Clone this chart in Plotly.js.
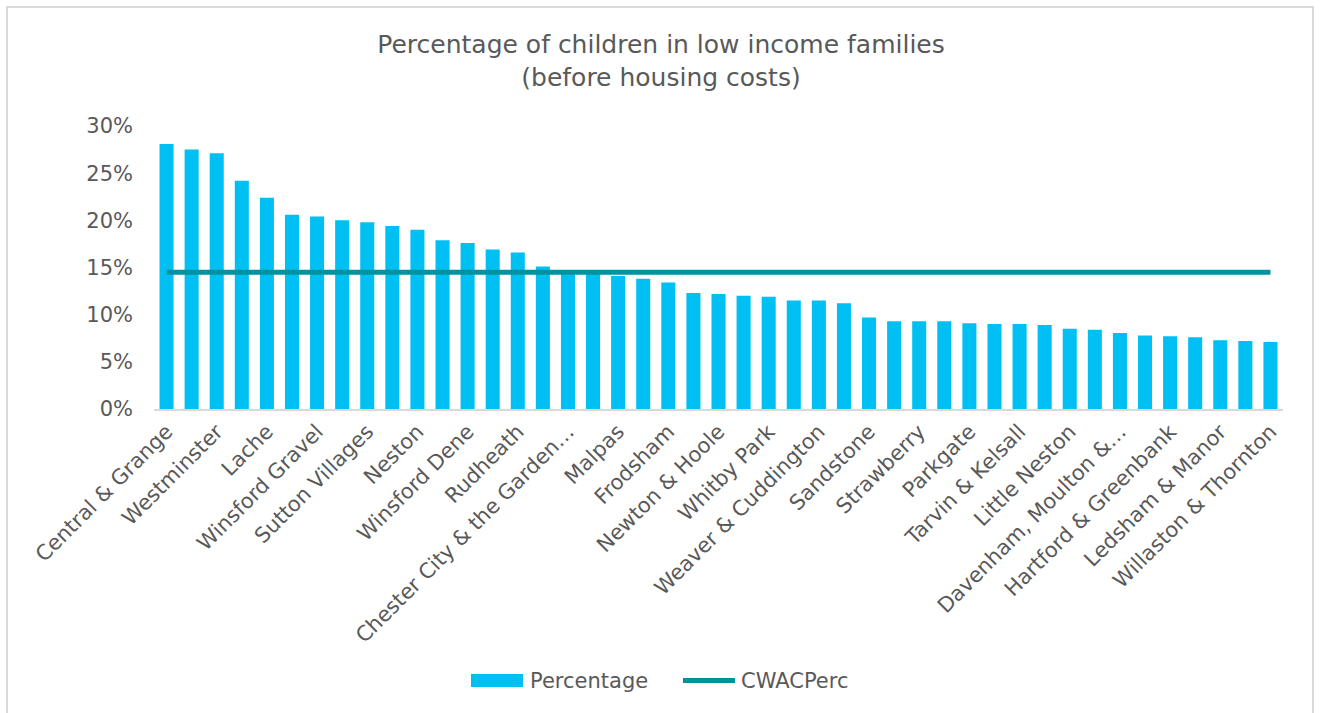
<!DOCTYPE html>
<html>
<head>
<meta charset="utf-8">
<script src="https://cdn.plot.ly/plotly-3.0.1.min.js"></script>
<style>
  html, body { margin: 0; padding: 0; background: #ffffff; }
  #frame { position: absolute; left: 6px; top: 6px; width: 1308px; height: 760px; border: 2px solid #d9d9d9; box-sizing: border-box; }
  #chart { position: absolute; left: 0; top: 0; width: 1322px; height: 713px; }
</style>
</head>
<body>
<div id="frame"></div>
<div id="chart"></div>
<script>
// Wards (categories), sorted by percentage, descending
const wards = [
  "Central & Grange", "Blacon", "Westminster", "Winsford Over & Verdin", "Lache",
  "Wolverham", "Winsford Gravel", "Witton", "Sutton Villages", "Netherpool",
  "Neston", "Winnington & Castle", "Winsford Dene", "Shakerley", "Rudheath",
  "Whitby Groves", "Chester City & the Garden Quarter", "Winsford Swanlow", "Malpas", "Ellesmere Port Town",
  "Frodsham", "Helsby", "Newton & Hoole", "Marbury", "Whitby Park",
  "Kingsley", "Weaver & Cuddington", "Upton", "Sandstone", "Great Boughton",
  "Strawberry", "Gowy Rural", "Parkgate", "Farndon", "Tarvin & Kelsall",
  "Tattenhall", "Little Neston", "Saughall & Mollington", "Davenham, Moulton & Kingsmead", "Tarporley",
  "Hartford & Greenbank", "Christleton & Huntington", "Ledsham & Manor", "Handbridge Park", "Willaston & Thornton"
];

// Percentage of children in low income families (before housing costs)
const percentage = [
  0.281, 0.275, 0.271, 0.242, 0.224,
  0.206, 0.204, 0.200, 0.198, 0.194,
  0.190, 0.179, 0.176, 0.169, 0.166,
  0.151, 0.146, 0.145, 0.141, 0.138,
  0.134, 0.123, 0.122, 0.120, 0.119,
  0.115, 0.115, 0.112, 0.097, 0.093,
  0.093, 0.093, 0.091, 0.090, 0.090,
  0.089, 0.085, 0.084, 0.0805, 0.078,
  0.077, 0.076, 0.073, 0.072, 0.071
];

// Cheshire West and Chester average (constant series)
const cwacPerc = [
  0.145, 0.145, 0.145, 0.145, 0.145, 0.145, 0.145, 0.145, 0.145,
  0.145, 0.145, 0.145, 0.145, 0.145, 0.145, 0.145, 0.145, 0.145,
  0.145, 0.145, 0.145, 0.145, 0.145, 0.145, 0.145, 0.145, 0.145,
  0.145, 0.145, 0.145, 0.145, 0.145, 0.145, 0.145, 0.145, 0.145,
  0.145, 0.145, 0.145, 0.145, 0.145, 0.145, 0.145, 0.145, 0.145
];

// Tick labels shown on the axis (every other ward, as displayed)
const tickWards = [
  "Central & Grange", "Westminster", "Lache", "Winsford Gravel", "Sutton Villages",
  "Neston", "Winsford Dene", "Rudheath", "Chester City & the Garden Quarter", "Malpas",
  "Frodsham", "Newton & Hoole", "Whitby Park", "Weaver & Cuddington", "Sandstone",
  "Strawberry", "Parkgate", "Tarvin & Kelsall", "Little Neston", "Davenham, Moulton & Kingsmead",
  "Hartford & Greenbank", "Ledsham & Manor", "Willaston & Thornton"
];
const tickText = [
  "Central & Grange", "Westminster", "Lache", "Winsford Gravel", "Sutton Villages",
  "Neston", "Winsford Dene", "Rudheath", "Chester City & the Garden…", "Malpas",
  "Frodsham", "Newton & Hoole", "Whitby Park", "Weaver & Cuddington", "Sandstone",
  "Strawberry", "Parkgate", "Tarvin & Kelsall", "Little Neston", "Davenham, Moulton &…",
  "Hartford & Greenbank", "Ledsham & Manor", "Willaston & Thornton"
];

const seriesNames = ["Percentage", "CWACPerc"];
const BAR_COLOR = "#00BFF3";
const LINE_COLOR = "#00939F";

const FONT = "DejaVu Sans, Liberation Sans, Arial, sans-serif";
const GREY = "#595959";

const traces = [
  {
    type: "bar",
    name: seriesNames[0],
    x: wards,
    y: percentage,
    marker: { color: BAR_COLOR, line: { width: 0 } },
    hoverinfo: "x+y"
  },
  {
    type: "scatter",
    mode: "lines",
    name: seriesNames[1],
    x: wards,
    y: cwacPerc,
    line: { color: LINE_COLOR, width: 5 },
    hoverinfo: "x+y"
  }
];

// plot area in pixels: x 154..1283, y 126..409.5 -> helpers to place the legend in paper units
const PL = 154, PW = 1129, PB = 409.5, PH = 283.5;
const px = v => (v - PL) / PW;
const py = v => (PB - v) / PH;

const layout = {
  width: 1322,
  height: 713,
  paper_bgcolor: "rgba(0,0,0,0)",
  plot_bgcolor: "rgba(0,0,0,0)",
  font: { family: FONT, color: GREY, size: 21 },
  margin: { l: 154, r: 39, t: 126, b: 303.5, pad: 0 },
  title: {
    text: "Percentage of children in low income families<br>(before housing costs)",
    font: { family: FONT, size: 25, color: GREY },
    xref: "container", x: 0.5, xanchor: "center",
    yref: "container", y: 1 - 53 / 713, yanchor: "top"
  },
  bargap: 0.44,
  xaxis: {
    type: "category",
    range: [-0.5, 44.5],
    tickmode: "array",
    tickvals: tickWards,
    ticktext: tickText,
    tickangle: -45,
    tickfont: { family: FONT, size: 21, color: GREY },
    ticks: "",
    showline: true,
    linecolor: "#d9d9d9",
    linewidth: 2,
    showgrid: false,
    zeroline: false,
    fixedrange: true
  },
  yaxis: {
    range: [0, 0.30],
    dtick: 0.05,
    tick0: 0,
    tickformat: ".0%",
    tickfont: { family: FONT, size: 21, color: GREY },
    ticks: "",
    ticklabelstandoff: 20,
    showline: false,
    showgrid: false,
    zeroline: false,
    fixedrange: true
  },
  showlegend: false,
  shapes: [
    { type: "rect", xref: "paper", yref: "paper",
      x0: px(471), x1: px(523), y0: py(688), y1: py(675),
      fillcolor: BAR_COLOR, line: { width: 0 } },
    { type: "line", xref: "paper", yref: "paper",
      x0: px(683), x1: px(735), y0: py(681.5), y1: py(681.5),
      line: { color: LINE_COLOR, width: 5 } }
  ],
  annotations: [
    { xref: "paper", yref: "paper", x: px(528), y: py(681.5),
      xanchor: "left", yanchor: "middle", showarrow: false,
      text: seriesNames[0], font: { family: FONT, size: 21, color: GREY } },
    { xref: "paper", yref: "paper", x: px(739), y: py(681.5),
      xanchor: "left", yanchor: "middle", showarrow: false,
      text: seriesNames[1], font: { family: FONT, size: 21, color: GREY } }
  ]
};

Plotly.newPlot("chart", traces, layout, { staticPlot: true, displayModeBar: false });
</script>
</body>
</html>
